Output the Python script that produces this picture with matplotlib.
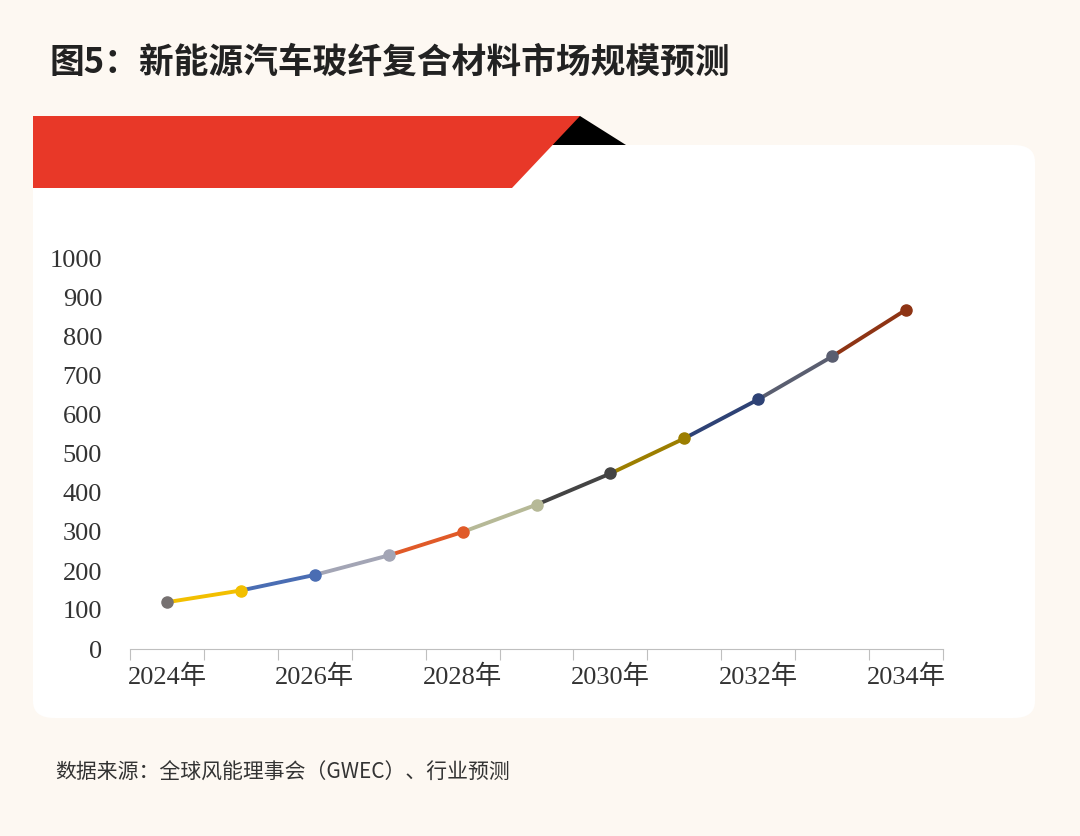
import matplotlib.pyplot as plt
from matplotlib.patches import Polygon, FancyBboxPatch

years = [2024, 2025, 2026, 2027, 2028, 2029, 2030, 2031, 2032, 2033, 2034]
values = [120, 150, 190, 240, 300, 370, 450, 540, 640, 750, 870]
colors = ['#767171', '#F2BF00', '#4A6DB3', '#A3A5B5', '#E05A28', '#B6B997',
          '#444444', '#9C7E00', '#2E4275', '#5A5E70', '#8E3414']
yticks = [0, 100, 200, 300, 400, 500, 600, 700, 800, 900, 1000]

W, H = 1080, 836
fig = plt.figure(figsize=(W / 100, H / 100), dpi=100, facecolor='#FDF8F2')

def fx(x): return x / W
def fy(y): return 1 - y / H

# white rounded panel
fig.patches.append(FancyBboxPatch((fx(33), fy(718)), fx(1035 - 33), fy(145) - fy(718),
                                  boxstyle='round,pad=0,rounding_size=0.02',
                                  transform=fig.transFigure, fc='white', ec='none', zorder=0))
# black triangle and red banner
fig.patches.append(Polygon([(fx(560), fy(116)), (fx(580), fy(116)), (fx(626), fy(145)), (fx(540), fy(145))],
                           closed=True, transform=fig.transFigure, fc='black', ec='none', zorder=1))
fig.patches.append(Polygon([(fx(33), fy(116)), (fx(580), fy(116)), (fx(512), fy(188)), (fx(33), fy(188))],
                           closed=True, transform=fig.transFigure, fc='#E83828', ec='none', zorder=2))

fig.text(fx(50), fy(62), '图5：新能源汽车玻纤复合材料市场规模预测', fontsize=25, fontweight='bold',
         family=['Noto Sans CJK SC'], color='#222222', va='center')
fig.text(fx(55), fy(773), '数据来源：全球风能理事会（GWEC）、行业预测', fontsize=15,
         family=['Noto Sans CJK SC'], color='#333333', va='center')

ax = fig.add_axes([fx(130), fy(649), fx(943 - 130), fy(259) - fy(649)])
ax.set_zorder(5)
ax.set_facecolor('none')
xs = list(range(len(years)))
for i in range(len(xs) - 1):
    ax.plot(xs[i:i + 2], values[i:i + 2], color=colors[i + 1], lw=2.8, solid_capstyle='round')
for x, v, c in zip(xs, values, colors):
    ax.plot(x, v, 'o', color=c, ms=8, zorder=3)

ax.set_xlim(-0.5, len(years) - 0.5)
ax.set_ylim(0, 1000)
ax.set_yticks(yticks)
ax.set_yticklabels([str(t) for t in yticks], family=['Liberation Serif'], fontsize=19, color='#333333')
ax.set_xticks([x - 0.5 for x in range(len(years) + 1)])
ax.set_xticklabels([])
for x, y in zip(xs, years):
    if y % 2 == 0:
        ax.text(x, -40, f'{y}年', ha='center', va='top', fontsize=19, color='#333333',
                family=['Liberation Serif', 'Noto Sans CJK SC'])
for s in ['top', 'right', 'left']:
    ax.spines[s].set_visible(False)
ax.spines['bottom'].set_color('#BFBFBF')
ax.tick_params(axis='x', length=8, color='#BFBFBF')
ax.tick_params(axis='y', length=0, pad=20)

fig.savefig('out.png', dpi=100, facecolor=fig.get_facecolor())
